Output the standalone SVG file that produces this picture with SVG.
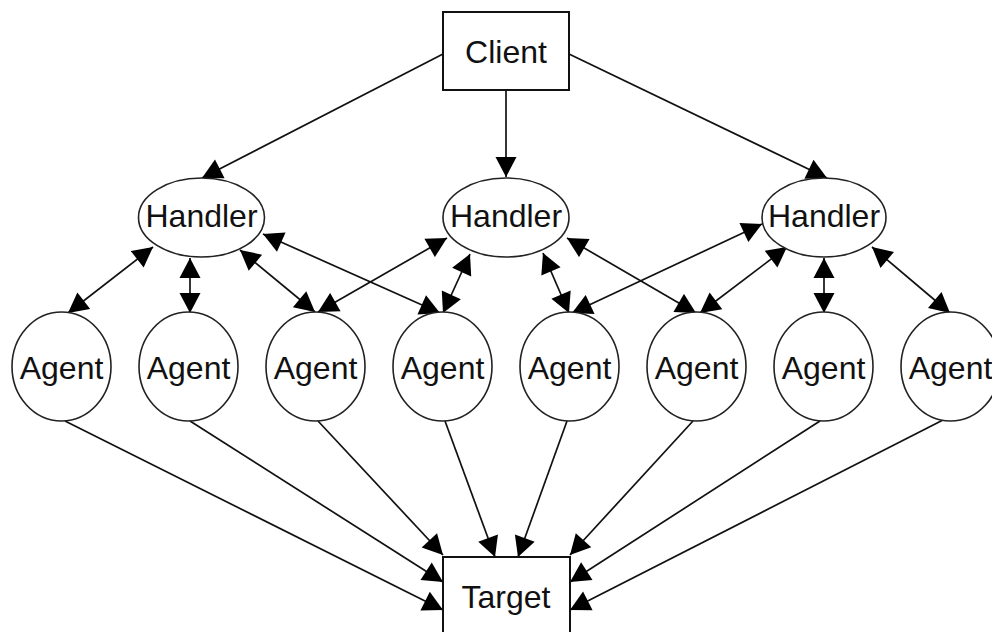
<svg xmlns="http://www.w3.org/2000/svg" width="992" height="632" viewBox="0 0 992 632">
<style>
.box{fill:#fff;stroke:#111;stroke-width:2}
.node{fill:#fff;stroke:#222;stroke-width:1.6}
.lbl{font-family:"Liberation Sans",Arial,sans-serif;font-size:32px;fill:#111;text-anchor:middle}
.e{stroke:#111;stroke-width:1.7;fill:none;marker-end:url(#ah)}
.b{marker-start:url(#ah)}
</style>
<defs>
<marker id="ah" markerUnits="userSpaceOnUse" markerWidth="21" markerHeight="22" viewBox="0 -11 20 22" refX="20" refY="0" orient="auto-start-reverse">
<path d="M0,-10.5 L20,0 L0,10.5 Z" fill="#000"/>
</marker>
</defs>
<rect width="992" height="632" fill="#fff"/>
<g id="connectors">
<line class="e" x1="443" y1="54" x2="202" y2="178"/>
<line class="e" x1="506" y1="90" x2="506" y2="177"/>
<line class="e" x1="569" y1="54" x2="827" y2="178"/>
<line class="e b" x1="153" y1="247" x2="68" y2="313"/>
<line class="e b" x1="190" y1="258" x2="190" y2="313"/>
<line class="e b" x1="240" y1="250" x2="315" y2="312"/>
<line class="e b" x1="263" y1="234" x2="440" y2="313"/>
<line class="e b" x1="447" y1="238" x2="318" y2="312"/>
<line class="e b" x1="470" y1="254" x2="443" y2="313"/>
<line class="e b" x1="543" y1="253" x2="569" y2="313"/>
<line class="e b" x1="567" y1="238" x2="696" y2="313"/>
<line class="e b" x1="762" y1="224" x2="572" y2="313"/>
<line class="e b" x1="787" y1="247" x2="700" y2="313"/>
<line class="e b" x1="824" y1="258" x2="824" y2="313"/>
<line class="e b" x1="872" y1="247" x2="950" y2="313"/>
<line class="e" x1="65" y1="421" x2="443" y2="610"/>
<line class="e" x1="190" y1="421" x2="443" y2="582"/>
<line class="e" x1="318" y1="421" x2="443" y2="555"/>
<line class="e" x1="445" y1="421" x2="495" y2="557"/>
<line class="e" x1="567" y1="421" x2="518" y2="557"/>
<line class="e" x1="693" y1="421" x2="570" y2="555"/>
<line class="e" x1="820" y1="421" x2="570" y2="582"/>
<line class="e" x1="943" y1="420" x2="570" y2="610"/>
</g>
<g id="client"><rect class="box" x="443" y="12" width="126" height="78"/><text class="lbl" x="506" y="63">Client</text></g>
<g id="handler1"><ellipse class="node" cx="201.5" cy="217.5" rx="63" ry="39.5"/><text class="lbl" x="201.5" y="227">Handler</text></g>
<g id="handler2"><ellipse class="node" cx="506" cy="217.5" rx="63" ry="39.5"/><text class="lbl" x="506" y="227">Handler</text></g>
<g id="handler3"><ellipse class="node" cx="824" cy="217.5" rx="62" ry="39.5"/><text class="lbl" x="824" y="227">Handler</text></g>
<g id="agent1"><ellipse class="node" cx="61.5" cy="366.5" rx="49.5" ry="54.5"/><text class="lbl" x="61.5" y="379">Agent</text></g>
<g id="agent2"><ellipse class="node" cx="188.5" cy="366.5" rx="49.5" ry="54.5"/><text class="lbl" x="188.5" y="379">Agent</text></g>
<g id="agent3"><ellipse class="node" cx="315.5" cy="366.5" rx="49.5" ry="54.5"/><text class="lbl" x="315.5" y="379">Agent</text></g>
<g id="agent4"><ellipse class="node" cx="442.5" cy="366.5" rx="49.5" ry="54.5"/><text class="lbl" x="442.5" y="379">Agent</text></g>
<g id="agent5"><ellipse class="node" cx="569.5" cy="366.5" rx="49.5" ry="54.5"/><text class="lbl" x="569.5" y="379">Agent</text></g>
<g id="agent6"><ellipse class="node" cx="696.5" cy="366.5" rx="49.5" ry="54.5"/><text class="lbl" x="696.5" y="379">Agent</text></g>
<g id="agent7"><ellipse class="node" cx="823.5" cy="366.5" rx="49.5" ry="54.5"/><text class="lbl" x="823.5" y="379">Agent</text></g>
<g id="agent8"><ellipse class="node" cx="950.5" cy="366.5" rx="49.5" ry="54.5"/><text class="lbl" x="950.5" y="379">Agent</text></g>
<g id="target"><rect class="box" x="443" y="557" width="127" height="90"/><text class="lbl" x="506" y="608">Target</text></g>
</svg>
